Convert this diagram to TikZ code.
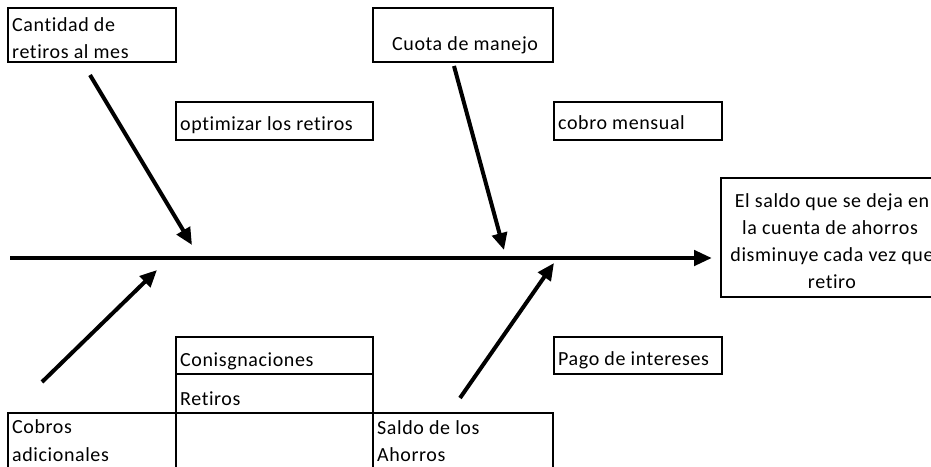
\documentclass[tikz,border=0pt]{standalone}
\usepackage{fontspec}
\setmainfont{Carlito}[LetterSpace=3,Ligatures={NoCommon}]
\usetikzlibrary{arrows.meta}
\begin{document}
\begin{tikzpicture}[x=1pt,y=-1pt,
  cell/.style={draw, line width=1.7pt, inner sep=0pt, outer sep=0pt, anchor=north west},
  lbl/.style={anchor=base west, inner sep=0pt, font=\fontsize{20}{27}\selectfont},
  clbl/.style={anchor=base, inner sep=0pt, font=\fontsize{20}{27}\selectfont},
  arr/.style={line width=4pt, -{Triangle[length=17pt,width=15pt]}},
  spine/.style={line width=4.5pt, -{Triangle[length=18pt,width=15pt]}}]
\useasboundingbox (0,0) rectangle (931,466);
% cells
\node[cell, minimum width=168pt, minimum height=54pt] (c1) at (8,8) {};
\node[cell, minimum width=180pt, minimum height=54pt] (c2) at (373,8) {};
\node[cell, minimum width=197pt, minimum height=38pt] (c3) at (176,102) {};
\node[cell, minimum width=168pt, minimum height=38pt] (c4) at (554,102) {};
\node[cell, minimum width=225pt, minimum height=119pt] (c5) at (721,178) {};
\node[cell, minimum width=168pt, minimum height=37pt] (c6) at (554,337) {};
\node[cell, minimum width=197pt, minimum height=37pt] (c7) at (176,337) {};
\node[cell, minimum width=197pt, minimum height=39pt] (c8) at (176,374) {};
\node[cell, minimum width=168pt, minimum height=60pt] (c9) at (8,413) {};
\node[cell, minimum width=197pt, minimum height=60pt] (c10) at (176,413) {};
\node[cell, minimum width=180pt, minimum height=60pt] (c11) at (373,413) {};
% labels
\node[lbl] (t1a) at (12,31) {Cantidad de};
\node[lbl] (t1b) at (12,58) {retiros al mes};
\node[lbl] (t2) at (392,50) {Cuota de manejo};
\node[lbl] (t3) at (180,130) {optimizar los retiros};
\node[lbl] (t4) at (558,129) {cobro mensual};
\node[clbl] (t5a) at (832,207) {El saldo que se deja en};
\node[clbl] (t5b) at (830,234) {la cuenta de ahorros};
\node[clbl] (t5c) at (832,261) {disminuye cada vez que};
\node[clbl] (t5d) at (832,288) {retiro};
\node[lbl] (t6) at (558,365) {Pago de intereses};
\node[lbl] (t7) at (180,366) {Conisgnaciones};
\node[lbl] (t8) at (180,405) {Retiros};
\node[lbl] (t9a) at (12,433) {Cobros};
\node[lbl] (t9b) at (12,461) {adicionales};
\node[lbl] (t11a) at (377,434) {Saldo de los};
\node[lbl] (t11b) at (377,461) {Ahorros};
% connectors
\coordinate (s0) at (10,258);
\coordinate (s1) at (712,258);
\coordinate (a1s) at (90,75);
\coordinate (a1e) at (192,245);
\coordinate (a2s) at (454,66);
\coordinate (a2e) at (504,250);
\coordinate (a3s) at (42,382);
\coordinate (a3e) at (157,270);
\coordinate (a4s) at (460,398);
\coordinate (a4e) at (554,263);
\draw[spine] (s0) -- (s1);
\draw[arr] (a1s) -- (a1e);
\draw[arr] (a2s) -- (a2e);
\draw[arr] (a3s) -- (a3e);
\draw[arr] (a4s) -- (a4e);
\end{tikzpicture}
\end{document}
